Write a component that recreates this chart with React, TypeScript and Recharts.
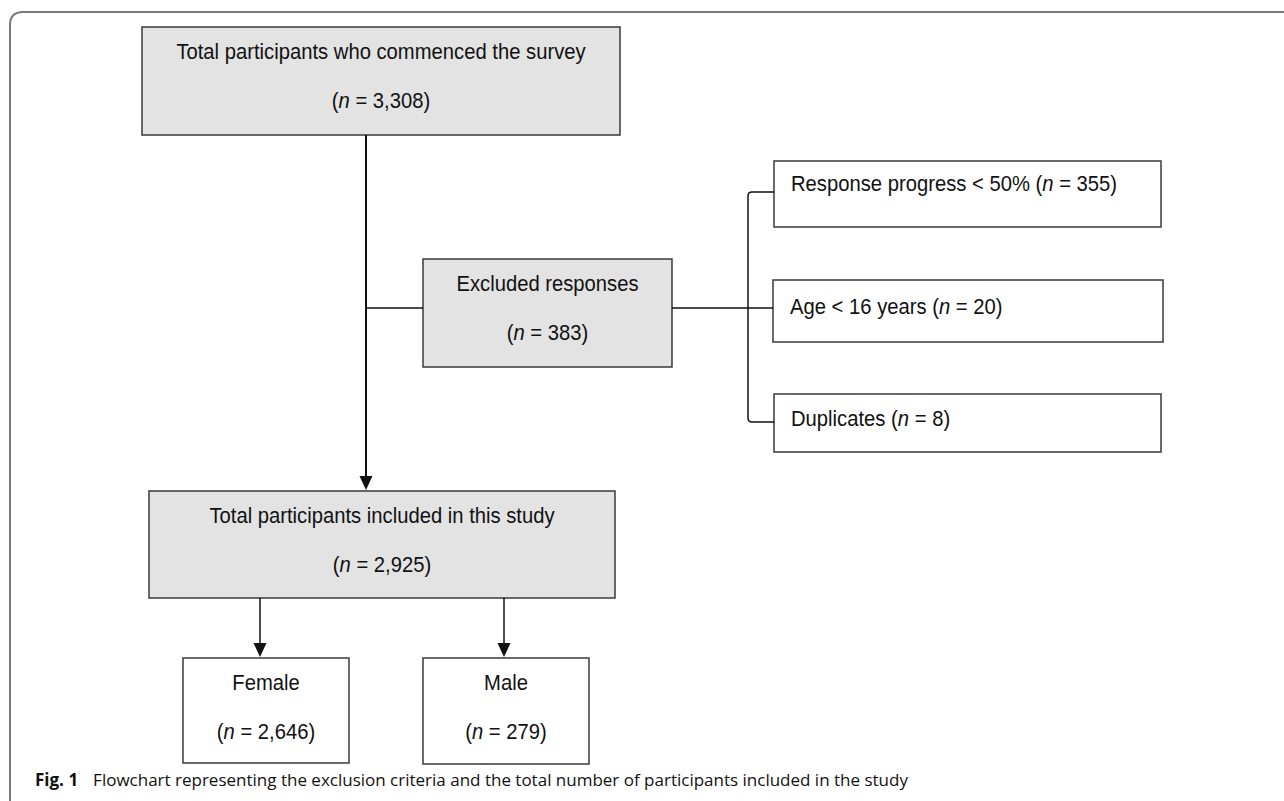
import React from 'react';
import {
  ComposedChart,
  XAxis,
  YAxis,
  ReferenceArea,
  ReferenceLine,
  Scatter,
} from 'recharts';

// flowchart content
const boxTitles = [
  'Total participants who commenced the survey',
  'Excluded responses',
  'Total participants included in this study',
  'Female',
  'Male',
];
const boxCounts = [3308, 383, 2925, 2646, 279];
const exclusionReasons = ['Response progress < 50%', 'Age < 16 years', 'Duplicates'];
const exclusionCounts = [355, 20, 8];
const captionLabel = 'Fig. 1';
const captionText =
  'Flowchart representing the exclusion criteria and the total number of participants included in the study';

// layout, in chart units (one unit = one pixel of the page)
const mainBoxes = [
  { x1: 142, x2: 620, y1: 27, y2: 135, fill: '#e3e3e3' },
  { x1: 423, x2: 672, y1: 259, y2: 367, fill: '#e3e3e3' },
  { x1: 149, x2: 615, y1: 491, y2: 598, fill: '#e3e3e3' },
  { x1: 183, x2: 349, y1: 658, y2: 763, fill: '#ffffff' },
  { x1: 423, x2: 589, y1: 658, y2: 764, fill: '#ffffff' },
];
const reasonBoxes = [
  { x1: 774, x2: 1161, y1: 161, y2: 227, ty: 183 },
  { x1: 773, x2: 1163, y1: 280, y2: 342, ty: 306 },
  { x1: 774, x2: 1161, y1: 394, y2: 452, ty: 418 },
];
const connectors = [
  [{ x: 366, y: 135 }, { x: 366, y: 478 }],
  [{ x: 366, y: 308 }, { x: 423, y: 308 }],
  [{ x: 672, y: 308 }, { x: 773, y: 308 }],
  [{ x: 748, y: 196 }, { x: 748, y: 418 }],
  [{ x: 752, y: 192 }, { x: 774, y: 192 }],
  [{ x: 752, y: 422 }, { x: 774, y: 422 }],
  [{ x: 260, y: 598 }, { x: 260, y: 646 }],
  [{ x: 504, y: 598 }, { x: 504, y: 646 }],
];
const bracketCorners = [
  { x: 748, y: 192, dir: 1 },
  { x: 748, y: 422, dir: -1 },
];
const arrowTips = [
  { x: 366, y: 490 },
  { x: 260, y: 657 },
  { x: 504, y: 657 },
];

const W = 1284;
const H = 801;
const BOX_FONT = "'Liberation Sans', Arial, sans-serif";
const BOX_SIZE = 22;
const SQUEEZE = 0.92; // the boxes use a condensed face
const CAPTION_FONT = "'Open Sans', 'Noto Sans', sans-serif";

const fmt = (v: number) => v.toLocaleString('en-US');

const CountLine = ({ value }: { value: number }) => (
  <>
    (<tspan fontStyle="italic">n</tspan> = {fmt(value)})
  </>
);

const boxLabels = mainBoxes.flatMap((b, i) => [
  { x: (b.x1 + b.x2) / 2, y: b.y1 + 24, kind: 'title', idx: i },
  { x: (b.x1 + b.x2) / 2, y: b.y1 + 73, kind: 'count', idx: i },
]);
const reasonLabels = reasonBoxes.map((b, i) => ({ x: b.x1 + 17, y: b.ty, idx: i }));
const captionPoint = [{ x: 35, y: 786 }];

const BoxLabel = (props: any) => {
  const { cx, cy, payload } = props;
  return (
    <g transform={`translate(${cx},${cy}) scale(${SQUEEZE},1)`}>
      <text
        x={0}
        y={0}
        textAnchor="middle"
        dominantBaseline="central"
        fontFamily={BOX_FONT}
        fontSize={BOX_SIZE}
        fill="#111"
      >
        {payload.kind === 'title' ? boxTitles[payload.idx] : <CountLine value={boxCounts[payload.idx]} />}
      </text>
    </g>
  );
};

const ReasonLabel = (props: any) => {
  const { cx, cy, payload } = props;
  return (
    <g transform={`translate(${cx},${cy}) scale(${SQUEEZE},1)`}>
      <text x={0} y={0} dominantBaseline="central" fontFamily={BOX_FONT} fontSize={BOX_SIZE} fill="#111">
        {exclusionReasons[payload.idx]} <CountLine value={exclusionCounts[payload.idx]} />
      </text>
    </g>
  );
};

const Arrow = (props: any) => {
  const { cx, cy } = props;
  return <polygon points={`${cx - 6.5},${cy - 14} ${cx + 6.5},${cy - 14} ${cx},${cy}`} fill="#111" />;
};

const Corner = (props: any) => {
  const { cx, cy, payload } = props;
  const d = payload.dir;
  return (
    <path
      d={`M ${cx} ${cy + 4 * d} Q ${cx} ${cy} ${cx + 4} ${cy}`}
      fill="none"
      stroke="#111"
      strokeWidth={1.5}
    />
  );
};

const Caption = (props: any) => {
  const { cx, cy } = props;
  return (
    <text x={cx} y={cy} fontFamily={CAPTION_FONT} fontSize={17} fill="#111">
      <tspan fontWeight={700}>{captionLabel}</tspan>
      <tspan dx={15}>{captionText}</tspan>
    </text>
  );
};

const Frame = (props: any) => {
  const { x, y } = props;
  const r = 13;
  return (
    <path
      d={`M ${x} ${H + 5} L ${x} ${y + r} Q ${x} ${y} ${x + r} ${y} L ${W + 5} ${y}`}
      fill="none"
      stroke="#7a7a7a"
      strokeWidth={2}
    />
  );
};

export default function App() {
  return (
    <div style={{ width: W, height: H, background: '#fff' }}>
      <style>{'body{margin:0;}'}</style>
      <ComposedChart width={W} height={H} margin={{ top: 0, right: 0, bottom: 0, left: 0 }}>
        <XAxis type="number" dataKey="x" domain={[0, W]} hide allowDataOverflow />
        <YAxis type="number" dataKey="y" domain={[0, H]} reversed hide allowDataOverflow />

        <ReferenceArea x1={10} x2={W} y1={12} y2={H} ifOverflow="visible" shape={<Frame />} />

        {connectors.map((seg, i) => (
          <ReferenceLine key={`c-${i}`} segment={seg} stroke="#111" strokeWidth={i === 0 ? 2 : 1.5} />
        ))}

        {mainBoxes.map((b, i) => (
          <ReferenceArea
            key={`b-${i}`}
            x1={b.x1}
            x2={b.x2}
            y1={b.y1}
            y2={b.y2}
            fill={b.fill}
            fillOpacity={1}
            stroke="#3a3a3a"
            strokeWidth={1.5}
          />
        ))}
        {reasonBoxes.map((b, i) => (
          <ReferenceArea
            key={`r-${i}`}
            x1={b.x1}
            x2={b.x2}
            y1={b.y1}
            y2={b.y2}
            fill="#ffffff"
            fillOpacity={1}
            stroke="#3a3a3a"
            strokeWidth={1.5}
          />
        ))}

        <Scatter data={bracketCorners} shape={<Corner />} isAnimationActive={false} />
        <Scatter data={arrowTips} shape={<Arrow />} isAnimationActive={false} />
        <Scatter data={boxLabels} shape={<BoxLabel />} isAnimationActive={false} />
        <Scatter data={reasonLabels} shape={<ReasonLabel />} isAnimationActive={false} />
        <Scatter data={captionPoint} shape={<Caption />} isAnimationActive={false} />
      </ComposedChart>
    </div>
  );
}
